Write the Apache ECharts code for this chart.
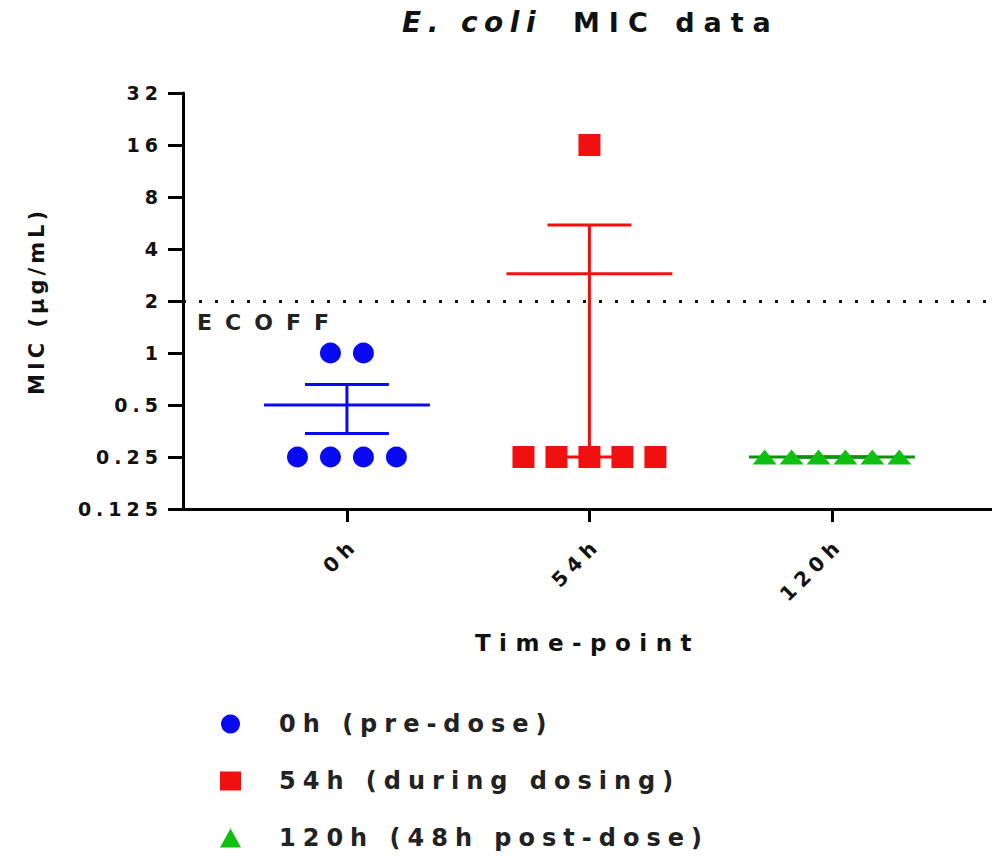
<!DOCTYPE html>
<html>
<head>
<meta charset="utf-8">
<title>E. coli MIC data</title>
<script src="https://cdn.jsdelivr.net/npm/echarts@6/dist/echarts.min.js"></script>
<style>
  html, body { margin: 0; padding: 0; background: #fff; }
  #chart { width: 992px; height: 858px; }
  /* GraphPad-style wide tracking, keyed on each text role's font size */
  #chart text[style*="28px"] { letter-spacing: 6.5px; }  /* title, italic part */
  #chart text[style*="27px"] { letter-spacing: 9px; }    /* title, plain part */
  #chart text[style*="24px"] { letter-spacing: 7px; }    /* legend */
  #chart text[style*="23px"] { letter-spacing: 8.5px; }  /* x axis name */
  #chart text[style*="22px"] { letter-spacing: 13px; }   /* ECOFF */
  #chart text[style*="21px"] { letter-spacing: 4px; }    /* y axis name */
  #chart text[style*="20px"] { letter-spacing: 6px; }    /* x tick labels */
  #chart text[style*="19px"] { letter-spacing: 5px; }    /* y tick labels */
</style>
</head>
<body>
<div id="chart"></div>
<script>
// Time-points on the x axis
const categories = ['0h', '54h', '120h'];
const seriesNames = ['0h (pre-dose)', '54h (during dosing)', '120h (48h post-dose)'];

// MIC values (µg/mL), one per isolate
const mic0h = [1, 1, 0.25, 0.25, 0.25, 0.25];
const mic54h = [16, 0.25, 0.25, 0.25, 0.25, 0.25];
const mic120h = [0.25, 0.25, 0.25, 0.25, 0.25, 0.25];

// Log2 tick labels from 0.125 to 32
const yTickLabels = ['0.125', '0.25', '0.5', '1', '2', '4', '8', '16', '32'];

// Epidemiological cut-off
const ecoff = 2;

const FONT = 'DejaVu Sans';
const colors = ['#0a0af0', '#f01010', '#10c010'];
const meanColors = ['#0a0af0', '#f01010', '#109010'];
const symbols = ['circle', 'rect', 'triangle'];
const symbolSizes = [21, 22, [24, 15]];
const spread = [0.136, 0.136, 0.111];   // horizontal spacing between tied points (x units)
const labelNudge = 0.033;               // rotated tick labels sit a little right of their tick

// Spread tied values side by side around the category centre
function dotPlot(values, centre, step) {
  const counts = {};
  values.forEach(v => { counts[v] = (counts[v] || 0) + 1; });
  const seen = {};
  return values.map(v => {
    const n = counts[v];
    const k = seen[v] = (seen[v] === undefined ? 0 : seen[v] + 1);
    return [centre + (k - (n - 1) / 2) * step, v];
  });
}

// Mean and standard error of the mean
function meanSem(values) {
  const n = values.length;
  const mean = values.reduce((a, b) => a + b, 0) / n;
  const sd = Math.sqrt(values.reduce((a, b) => a + (b - mean) * (b - mean), 0) / (n - 1));
  const sem = sd / Math.sqrt(n);
  return [mean, mean - sem, mean + sem];
}

const groups = [mic0h, mic54h, mic120h];
const stats = groups.map((g, i) => {
  const s = meanSem(g);
  return [i + 1, s[0], Math.max(s[1], 1e-6), s[2], i];
});
const tickPositions = categories.map((c, i) => i + 1);

const chart = echarts.init(document.getElementById('chart'), null, { renderer: 'svg' });

const scatterSeries = groups.map((g, i) => ({
  name: seriesNames[i],
  type: 'scatter',
  symbol: symbols[i],
  symbolSize: symbolSizes[i],
  itemStyle: { color: colors[i], opacity: 1 },
  data: dotPlot(g, i + 1, spread[i]),
  z: 5,
  emphasis: { disabled: true }
}));

const option = {
  animation: false,
  backgroundColor: '#fff',
  textStyle: { fontFamily: FONT },
  title: [
    {
      text: 'E. coli',
      left: 397, top: 3,
      textStyle: { fontFamily: FONT, fontSize: 28, fontWeight: 'bold', fontStyle: 'italic', color: '#111' }
    },
    {
      text: 'MIC data',
      left: 568, top: 4,
      textStyle: { fontFamily: FONT, fontSize: 27, fontWeight: 'bold', color: '#111' }
    }
  ],
  legend: {
    orient: 'vertical',
    left: 215, top: 707,
    itemWidth: 21, itemHeight: 19, itemGap: 33,
    selectedMode: false,
    textStyle: { fontFamily: FONT, fontSize: 24, fontWeight: 'bold', color: '#222', padding: [0, 0, 0, 33] },
    data: seriesNames.map((n, i) => ({ name: n, icon: symbols[i], itemStyle: { color: colors[i] } }))
  },
  grid: { left: 183, right: 0, top: 93, bottom: 349, containLabel: false },
  xAxis: {
    type: 'value',
    min: 0.324, max: 3.66,
    name: 'Time-point',
    nameLocation: 'middle',
    nameGap: 122,
    nameTextStyle: { fontFamily: FONT, fontSize: 23, fontWeight: 'bold', color: '#111' },
    splitLine: { show: false },
    axisLine: { show: true, onZero: false, lineStyle: { color: '#000', width: 3 } },
    axisTick: { show: true, customValues: tickPositions, length: 13, lineStyle: { color: '#000', width: 3 } },
    axisLabel: {
      customValues: tickPositions.map(p => p + labelNudge),
      rotate: 45,
      margin: 32,
      fontFamily: FONT, fontSize: 20, fontWeight: 'bold', color: '#111',
      formatter: v => categories[Math.round(v) - 1]
    }
  },
  yAxis: {
    type: 'log',
    logBase: 2,
    min: 0.125, max: 32,
    interval: 1,
    name: 'MIC (µg/mL)',
    nameLocation: 'middle',
    nameGap: 136,
    nameRotate: 90,
    nameTextStyle: { fontFamily: FONT, fontSize: 21, fontWeight: 'bold', color: '#111' },
    splitLine: { show: false },
    axisLine: { show: true, lineStyle: { color: '#000', width: 3 } },
    axisTick: { show: true, length: 15, lineStyle: { color: '#000', width: 3 } },
    axisLabel: {
      margin: 20,
      fontFamily: FONT, fontSize: 19, fontWeight: 'bold', color: '#111',
      formatter: v => yTickLabels[Math.round(Math.log2(v)) + 3]
    }
  },
  series: [
    {
      // mean with SEM whiskers for each time-point
      type: 'custom',
      z: 3,
      silent: true,
      encode: { x: 0, y: 1 },
      data: stats,
      renderItem: (params, api) => {
        const x = api.value(0);
        const mean = api.value(1), lo = api.value(2), hi = api.value(3);
        const color = meanColors[api.value(4)];
        const halfMean = 0.342, halfCap = 0.173;
        const style = { stroke: color, lineWidth: 3 };
        const line = (a, b) => ({ type: 'line', shape: { x1: a[0], y1: a[1], x2: b[0], y2: b[1] }, style });
        return {
          type: 'group',
          children: [
            line(api.coord([x, lo]), api.coord([x, hi])),
            line(api.coord([x - halfCap, hi]), api.coord([x + halfCap, hi])),
            line(api.coord([x - halfCap, lo]), api.coord([x + halfCap, lo])),
            line(api.coord([x - halfMean, mean]), api.coord([x + halfMean, mean]))
          ]
        };
      }
    },
    {
      // ECOFF reference line
      type: 'scatter',
      data: [],
      silent: true,
      markLine: {
        silent: true,
        symbol: 'none',
        animation: false,
        lineStyle: { color: '#111', width: 3, type: [3, 13] },
        label: {
          show: true,
          position: 'insideStartBottom',
          formatter: 'ECOFF',
          distance: [14, 10],
          fontFamily: FONT, fontSize: 22, fontWeight: 'bold', color: '#222'
        },
        data: [{ yAxis: ecoff }]
      }
    }
  ].concat(scatterSeries)
};

chart.setOption(option);
</script>
</body>
</html>
